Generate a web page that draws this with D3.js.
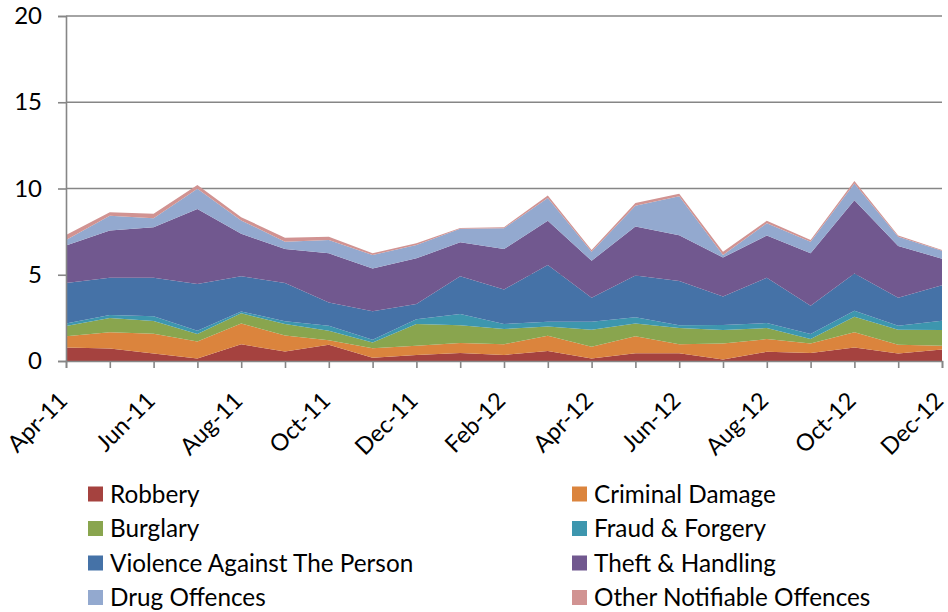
<!DOCTYPE html>
<html><head><meta charset="utf-8">
<script src="https://cdn.jsdelivr.net/npm/d3@7"></script>
<style>body{margin:0;background:#fff}svg{display:block}</style>
</head><body>
<svg id="chart" width="948" height="612"></svg>
<script>
const months = ["Apr-11","May-11","Jun-11","Jul-11","Aug-11","Sep-11","Oct-11","Nov-11","Dec-11","Jan-12","Feb-12","Mar-12","Apr-12","May-12","Jun-12","Jul-12","Aug-12","Sep-12","Oct-12","Nov-12","Dec-12"];
const seriesNames = ["Robbery","Criminal Damage","Burglary","Fraud & Forgery","Violence Against The Person","Theft & Handling","Drug Offences","Other Notifiable Offences"];
const robbery    = [0.78,0.72,0.43,0.14,0.97,0.55,0.94,0.19,0.35,0.47,0.35,0.58,0.14,0.45,0.45,0.08,0.53,0.47,0.78,0.43,0.66];
const criminalDamage = [0.66,0.94,1.15,0.99,1.21,0.93,0.27,0.55,0.53,0.58,0.62,0.88,0.68,0.99,0.52,0.93,0.74,0.54,0.88,0.51,0.22];
const burglary   = [0.59,0.84,0.74,0.43,0.59,0.66,0.54,0.33,1.26,1.02,0.88,0.54,0.99,0.74,0.94,0.78,0.64,0.26,0.91,0.87,0.91];
const fraud      = [0.15,0.17,0.27,0.19,0.10,0.16,0.30,0.16,0.28,0.66,0.29,0.28,0.47,0.35,0.16,0.30,0.29,0.29,0.35,0.24,0.55];
const violence   = [2.34,2.16,2.24,2.71,2.04,2.22,1.34,1.65,0.89,2.18,2.01,3.28,1.38,2.42,2.57,1.65,2.63,1.64,2.15,1.61,2.05];
const theft      = [2.18,2.73,2.93,4.35,2.46,1.97,2.85,2.48,2.64,1.97,2.34,2.57,2.15,2.85,2.65,2.26,2.44,3.04,4.25,3.01,1.54];
const drugs      = [0.32,0.86,0.52,1.17,0.78,0.43,0.78,0.78,0.78,0.78,1.21,1.32,0.53,1.20,2.26,0.14,0.72,0.68,0.97,0.54,0.46];
const other      = [0.29,0.20,0.26,0.23,0.19,0.23,0.19,0.10,0.09,0.05,0.06,0.14,0.09,0.16,0.14,0.20,0.14,0.10,0.14,0.06,0.05];
const yTicks = [0,5,10,15,20];
const colors = ["#A5423F","#DB843D","#89A54E","#3D96AE","#4572A7","#71588F","#93A9CF","#D19392"];

const allSeries = [robbery,criminalDamage,burglary,fraud,violence,theft,drugs,other];
const rows = months.map((m,i)=>{const r={month:m}; seriesNames.forEach((s,k)=>r[s]=allSeries[k][i]); return r;});

const svg = d3.select("#chart");
const FONT = "Lato, 'Open Sans', sans-serif";
const x = d3.scalePoint().domain(months).range([66,942]);
const y = d3.scaleLinear().domain([0,20]).range([361,16]);

// gridlines
svg.append("g").selectAll("line").data(yTicks.filter(t=>t>0)).join("line")
  .attr("x1",66).attr("x2",942).attr("y1",d=>y(d)).attr("y2",d=>y(d))
  .attr("stroke","#868686").attr("stroke-width",1.6);

const stack = d3.stack().keys(seriesNames);
const layers = stack(rows);
const area = d3.area().x(d=>x(d.data.month)).y0(d=>y(d[0])).y1(d=>y(d[1]));
svg.append("g").selectAll("path").data(layers).join("path")
  .attr("d",area).attr("fill",(d,i)=>colors[i]);

// y axis
const yAxis = svg.append("g").attr("transform","translate(66,0)")
  .call(d3.axisLeft(y).tickValues(yTicks).tickSize(8).tickPadding(16));
yAxis.select(".domain").attr("stroke","#868686").attr("stroke-width",1.6);
yAxis.selectAll(".tick line").attr("stroke","#868686").attr("stroke-width",1.6);
yAxis.selectAll("text").attr("font-family",FONT).attr("font-size",24).attr("fill","#000");

// x axis
const xAxis = svg.append("g").attr("transform","translate(0,361)")
  .call(d3.axisBottom(x).tickSize(7).tickFormat(""));
xAxis.select(".domain").attr("stroke","#868686").attr("stroke-width",1.6);
xAxis.selectAll(".tick line").attr("stroke","#868686").attr("stroke-width",1.6);
svg.append("g").selectAll("text").data(months.filter((m,i)=>i%2===0)).join("text")
  .attr("transform",d=>`translate(${x(d)+3},${402}) rotate(-45)`)
  .attr("text-anchor","end").attr("font-family",FONT).attr("font-size",23.5).attr("fill","#000")
  .text(d=>d);

// legend
const leg = svg.append("g");
const legItems = seriesNames.map((s,i)=>({name:s,color:colors[i],col:i%2,row:Math.floor(i/2)}));
const lg = leg.selectAll("g").data(legItems).join("g")
  .attr("transform",d=>`translate(${d.col===0?88:572},${494+d.row*34.5})`);
lg.append("rect").attr("x",0).attr("y",-7.5).attr("width",15).attr("height",15).attr("fill",d=>d.color);
lg.append("text").attr("x",22).attr("y",0).attr("dy","0.35em")
  .attr("font-family",FONT).attr("font-size",24.3).attr("fill","#000").text(d=>d.name);
</script>
</body></html>
